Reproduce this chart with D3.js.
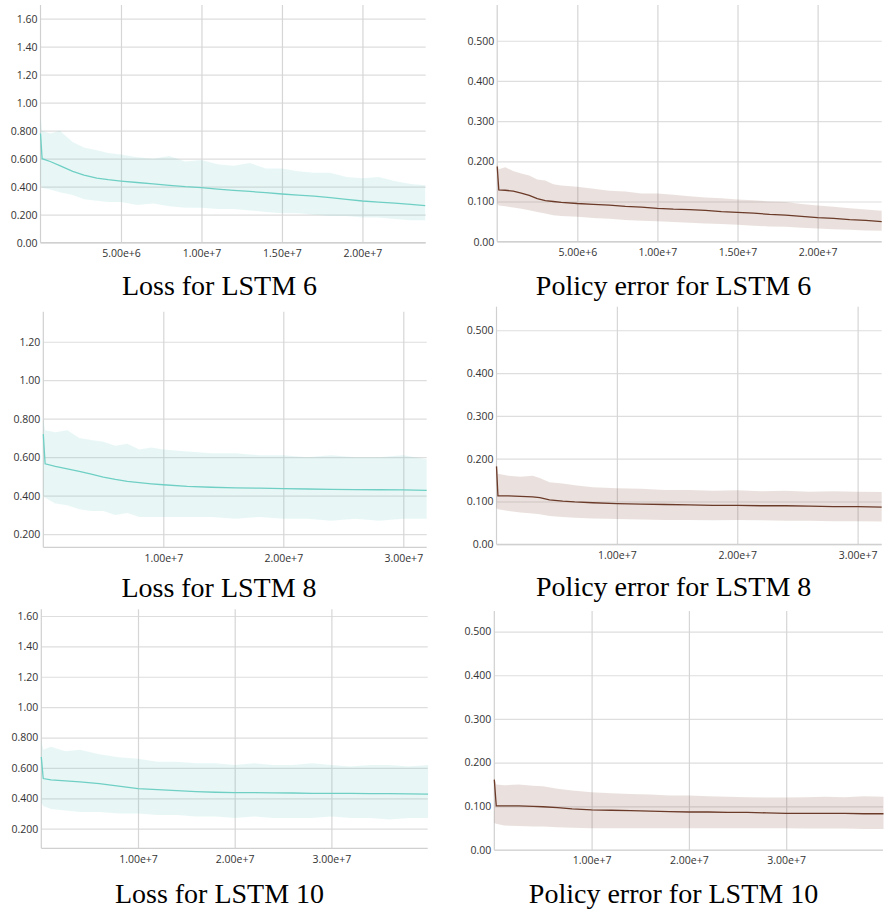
<!DOCTYPE html>
<html>
<head>
<meta charset="utf-8">
<script src="https://cdn.jsdelivr.net/npm/d3@7"></script>
<style>
  body { margin: 0; background: #fff; }
  .tick text { font-family: "Open Sans", sans-serif; font-size: 10.5px; fill: #333; }
  .caption { font-family: "Liberation Serif", "Times New Roman", serif; font-size: 28px; fill: #000; }
</style>
</head>
<body>
<div id="chart"></div>
<script>
// steps are in millions
var loss6Steps = [0, 0.1, 0.6, 1.2, 2, 2.7, 3.5, 4.2, 5, 6, 7, 8, 9, 10, 11, 12, 13, 14, 15, 16, 17, 18, 19, 20, 21, 22, 23, 23.9];
var loss6Mean  = [0.78, 0.60, 0.58, 0.55, 0.51, 0.483, 0.462, 0.45, 0.44, 0.43, 0.42, 0.41, 0.40, 0.393, 0.383, 0.374, 0.366, 0.357, 0.348, 0.34, 0.332, 0.322, 0.31, 0.298, 0.29, 0.283, 0.274, 0.265];
var loss6Upper = [0.90, 0.80, 0.78, 0.80, 0.72, 0.68, 0.66, 0.64, 0.63, 0.61, 0.60, 0.62, 0.58, 0.59, 0.56, 0.55, 0.57, 0.53, 0.53, 0.51, 0.50, 0.50, 0.47, 0.46, 0.47, 0.44, 0.42, 0.41];
var loss6Lower = [0.42, 0.39, 0.38, 0.36, 0.34, 0.31, 0.30, 0.29, 0.29, 0.27, 0.28, 0.26, 0.25, 0.25, 0.24, 0.24, 0.23, 0.22, 0.21, 0.21, 0.20, 0.19, 0.19, 0.18, 0.18, 0.17, 0.16, 0.16];

var pol6Steps = [0, 0.1, 0.5, 1, 1.5, 2, 2.5, 3, 3.5, 4, 5, 6, 7, 8, 9, 10, 11, 12, 13, 14, 15, 16, 17, 18, 19, 20, 21, 22, 23, 24];
var pol6Mean  = [0.187, 0.129, 0.128, 0.126, 0.121, 0.115, 0.107, 0.102, 0.10, 0.098, 0.095, 0.093, 0.091, 0.088, 0.086, 0.083, 0.081, 0.08, 0.078, 0.075, 0.073, 0.071, 0.068, 0.066, 0.063, 0.06, 0.058, 0.055, 0.053, 0.05];
var pol6Upper = [0.195, 0.18, 0.185, 0.176, 0.17, 0.165, 0.155, 0.152, 0.143, 0.14, 0.137, 0.132, 0.127, 0.125, 0.12, 0.12, 0.117, 0.113, 0.11, 0.108, 0.105, 0.103, 0.1, 0.099, 0.094, 0.09, 0.087, 0.083, 0.08, 0.077];
var pol6Lower = [0.095, 0.09, 0.088, 0.085, 0.082, 0.078, 0.074, 0.07, 0.066, 0.064, 0.062, 0.059, 0.057, 0.054, 0.052, 0.051, 0.049, 0.047, 0.045, 0.044, 0.042, 0.04, 0.038, 0.037, 0.035, 0.033, 0.031, 0.03, 0.028, 0.027];

var loss8Steps = [0, 0.15, 1, 2, 3, 4, 5, 6, 7, 8, 9, 10, 12, 14, 16, 18, 20, 22, 24, 26, 28, 30, 31.95];
var loss8Mean  = [0.72, 0.566, 0.552, 0.54, 0.527, 0.512, 0.497, 0.485, 0.475, 0.468, 0.462, 0.457, 0.449, 0.444, 0.441, 0.439, 0.437, 0.435, 0.433, 0.432, 0.431, 0.43, 0.428];
var loss8Upper = [0.80, 0.74, 0.73, 0.74, 0.70, 0.69, 0.68, 0.66, 0.67, 0.64, 0.65, 0.64, 0.63, 0.62, 0.62, 0.61, 0.61, 0.60, 0.61, 0.60, 0.60, 0.61, 0.59];
var loss8Lower = [0.40, 0.39, 0.36, 0.35, 0.33, 0.32, 0.32, 0.30, 0.31, 0.29, 0.29, 0.29, 0.29, 0.29, 0.28, 0.29, 0.28, 0.28, 0.27, 0.28, 0.27, 0.28, 0.28];

var pol8Steps = [0, 0.12, 1, 2, 3, 3.6, 4.4, 5.5, 6.5, 8, 10, 12, 14, 16, 18, 20, 22, 24, 26, 28, 30, 32];
var pol8Mean  = [0.182, 0.113, 0.113, 0.112, 0.111, 0.109, 0.104, 0.101, 0.099, 0.097, 0.095, 0.094, 0.093, 0.092, 0.091, 0.091, 0.09, 0.09, 0.089, 0.088, 0.088, 0.087];
var pol8Upper = [0.19, 0.165, 0.16, 0.158, 0.16, 0.155, 0.145, 0.142, 0.138, 0.133, 0.131, 0.13, 0.127, 0.127, 0.125, 0.126, 0.124, 0.125, 0.123, 0.124, 0.123, 0.122];
var pol8Lower = [0.085, 0.082, 0.078, 0.074, 0.072, 0.07, 0.066, 0.064, 0.062, 0.06, 0.059, 0.058, 0.057, 0.057, 0.056, 0.057, 0.056, 0.055, 0.055, 0.054, 0.054, 0.053];

var loss10Steps = [0, 0.2, 1, 2.5, 4, 6, 8, 10, 12, 14, 16, 18, 20, 22, 24, 26, 28, 30, 32, 34, 36, 38, 40];
var loss10Mean  = [0.672, 0.53, 0.522, 0.515, 0.508, 0.497, 0.48, 0.464, 0.457, 0.45, 0.444, 0.44, 0.438, 0.437, 0.436, 0.435, 0.433, 0.432, 0.432, 0.431, 0.431, 0.429, 0.427];
var loss10Upper = [0.78, 0.72, 0.74, 0.71, 0.72, 0.69, 0.67, 0.66, 0.64, 0.64, 0.63, 0.63, 0.62, 0.63, 0.62, 0.62, 0.63, 0.62, 0.61, 0.62, 0.62, 0.61, 0.62];
var loss10Lower = [0.37, 0.35, 0.33, 0.32, 0.31, 0.31, 0.30, 0.30, 0.29, 0.29, 0.28, 0.28, 0.27, 0.28, 0.27, 0.27, 0.27, 0.28, 0.27, 0.27, 0.26, 0.27, 0.27];

var pol10Steps = [0, 0.2, 1, 2.5, 4, 5, 6.5, 8, 10, 12, 14, 16, 18, 20, 22, 24, 26, 28, 30, 32, 34, 36, 38, 40];
var pol10Mean  = [0.161, 0.101, 0.101, 0.101, 0.1, 0.099, 0.097, 0.094, 0.092, 0.091, 0.09, 0.089, 0.088, 0.087, 0.087, 0.086, 0.086, 0.085, 0.084, 0.084, 0.084, 0.084, 0.083, 0.083];
var pol10Upper = [0.165, 0.15, 0.148, 0.15, 0.147, 0.146, 0.14, 0.136, 0.132, 0.13, 0.128, 0.127, 0.125, 0.125, 0.123, 0.122, 0.121, 0.12, 0.12, 0.121, 0.122, 0.121, 0.123, 0.122];
var pol10Lower = [0.062, 0.06, 0.056, 0.055, 0.054, 0.054, 0.052, 0.051, 0.05, 0.05, 0.05, 0.05, 0.05, 0.05, 0.05, 0.05, 0.05, 0.05, 0.05, 0.049, 0.049, 0.049, 0.048, 0.048];

// tick values and labels
var lossTicksA = [0, 0.2, 0.4, 0.6, 0.8, 1.0, 1.2, 1.4, 1.6];
var lossLabelsA = ["0.00", "0.200", "0.400", "0.600", "0.800", "1.00", "1.20", "1.40", "1.60"];
var lossTicksB = [0.2, 0.4, 0.6, 0.8, 1.0, 1.2];
var lossLabelsB = ["0.200", "0.400", "0.600", "0.800", "1.00", "1.20"];
var lossTicksC = [0.2, 0.4, 0.6, 0.8, 1.0, 1.2, 1.4, 1.6];
var lossLabelsC = ["0.200", "0.400", "0.600", "0.800", "1.00", "1.20", "1.40", "1.60"];
var polTicks = [0, 0.1, 0.2, 0.3, 0.4, 0.5];
var polLabels = ["0.00", "0.100", "0.200", "0.300", "0.400", "0.500"];

var xTicks24 = [5, 10, 15, 20];
var xLabels24 = ["5.00e+6", "1.00e+7", "1.50e+7", "2.00e+7"];
var xTicks32 = [10, 20, 30];
var xLabels32 = ["1.00e+7", "2.00e+7", "3.00e+7"];

var captions = ["Loss for LSTM 6", "Policy error for LSTM 6", "Loss for LSTM 8",
                "Policy error for LSTM 8", "Loss for LSTM 10", "Policy error for LSTM 10"];

var teal = {line: "#6fcfc4", band: "rgba(111,207,196,0.16)"};
var brown = {line: "#6b3a28", band: "rgba(140,90,70,0.18)"};

var panels = [
  {left: 40.5, top: 5, w: 385.2, h: 237.7, yDomain: [0, 1.698], xMax: 23.93,
   steps: loss6Steps, mean: loss6Mean, upper: loss6Upper, lower: loss6Lower,
   yTicks: lossTicksA, yLabels: lossLabelsA, xTicks: xTicks24, xLabels: xLabels24,
   color: teal, caption: captions[0], cx: 219.5, cy: 295},
  {left: 497.2, top: 5, w: 384.5, h: 236.7, yDomain: [0, 0.589], xMax: 24.0,
   steps: pol6Steps, mean: pol6Mean, upper: pol6Upper, lower: pol6Lower,
   yTicks: polTicks, yLabels: polLabels, xTicks: xTicks24, xLabels: xLabels24,
   color: brown, caption: captions[1], cx: 673.5, cy: 295},
  {left: 43.3, top: 311.7, w: 383.4, h: 235.6, yDomain: [0.132, 1.356], xMax: 31.95,
   steps: loss8Steps, mean: loss8Mean, upper: loss8Upper, lower: loss8Lower,
   yTicks: lossTicksB, yLabels: lossLabelsB, xTicks: xTicks32, xLabels: xLabels32,
   color: teal, caption: captions[2], cx: 219, cy: 596.5},
  {left: 496.5, top: 306.7, w: 385.2, h: 237.6, yDomain: [0, 0.555], xMax: 32.0,
   steps: pol8Steps, mean: pol8Mean, upper: pol8Upper, lower: pol8Lower,
   yTicks: polTicks, yLabels: polLabels, xTicks: xTicks32, xLabels: xLabels32,
   color: brown, caption: captions[3], cx: 673.7, cy: 596},
  {left: 41.3, top: 609.3, w: 386.4, h: 239, yDomain: [0.071, 1.644], xMax: 39.96,
   steps: loss10Steps, mean: loss10Mean, upper: loss10Upper, lower: loss10Lower,
   yTicks: lossTicksC, yLabels: lossLabelsC, xTicks: xTicks32, xLabels: xLabels32,
   color: teal, caption: captions[4], cx: 219.5, cy: 902.5},
  {left: 494.3, top: 611, w: 388.7, h: 239, yDomain: [0, 0.547], xMax: 39.95,
   steps: pol10Steps, mean: pol10Mean, upper: pol10Upper, lower: pol10Lower,
   yTicks: polTicks, yLabels: polLabels, xTicks: xTicks32, xLabels: xLabels32,
   color: brown, caption: captions[5], cx: 673.5, cy: 902.5}
];

var svg = d3.select("#chart")
  .append("svg")
  .attr("width", 888)
  .attr("height", 911);

panels.forEach(function (p) {
  var x = d3.scaleLinear().domain([0, p.xMax]).range([0, p.w]);
  var y = d3.scaleLinear().domain(p.yDomain).range([p.h, 0]);
  var g = svg.append("g").attr("transform", `translate(${p.left},${p.top})`);

  // horizontal grid + y labels
  var yAxis = g.append("g")
    .call(d3.axisLeft(y)
      .tickValues(p.yTicks)
      .tickSize(-p.w)
      .tickPadding(3)
      .tickFormat((d, i) => p.yLabels[i]));
  yAxis.select(".domain").remove();
  yAxis.selectAll(".tick line").attr("stroke", "#dedede").attr("stroke-width", 1.2);

  // vertical grid + x labels
  var xAxis = g.append("g")
    .attr("transform", `translate(0,${p.h})`)
    .call(d3.axisBottom(x)
      .tickValues(p.xTicks)
      .tickSize(-p.h)
      .tickPadding(5)
      .tickFormat((d, i) => p.xLabels[i]));
  xAxis.select(".domain").remove();
  xAxis.selectAll(".tick line").attr("stroke", "#d6d6d6").attr("stroke-width", 1.2);
  xAxis.selectAll(".tick text").attr("dy", "0.9em");

  // axis lines
  g.append("line").attr("x1", 0).attr("x2", p.w).attr("y1", p.h).attr("y2", p.h)
    .attr("stroke", "#d0d0d0").attr("stroke-width", 1.2);
  g.append("line").attr("x1", 0).attr("x2", 0).attr("y1", 0).attr("y2", p.h)
    .attr("stroke", "#d0d0d0").attr("stroke-width", 1.2);

  var rows = p.steps.map((s, i) => ({s: s, m: p.mean[i], hi: p.upper[i], lo: p.lower[i]}));

  // min/max band
  g.append("path")
    .datum(rows)
    .attr("fill", p.color.band)
    .attr("d", d3.area()
      .x(d => x(d.s))
      .y0(d => y(d.lo))
      .y1(d => y(d.hi)));

  // mean line
  g.append("path")
    .datum(rows)
    .attr("fill", "none")
    .attr("stroke", p.color.line)
    .attr("stroke-width", 1.3)
    .attr("d", d3.line()
      .x(d => x(d.s))
      .y(d => y(d.m)));

  svg.append("text")
    .attr("class", "caption")
    .attr("x", p.cx)
    .attr("y", p.cy)
    .attr("text-anchor", "middle")
    .text(p.caption);
});
</script>
</body>
</html>
